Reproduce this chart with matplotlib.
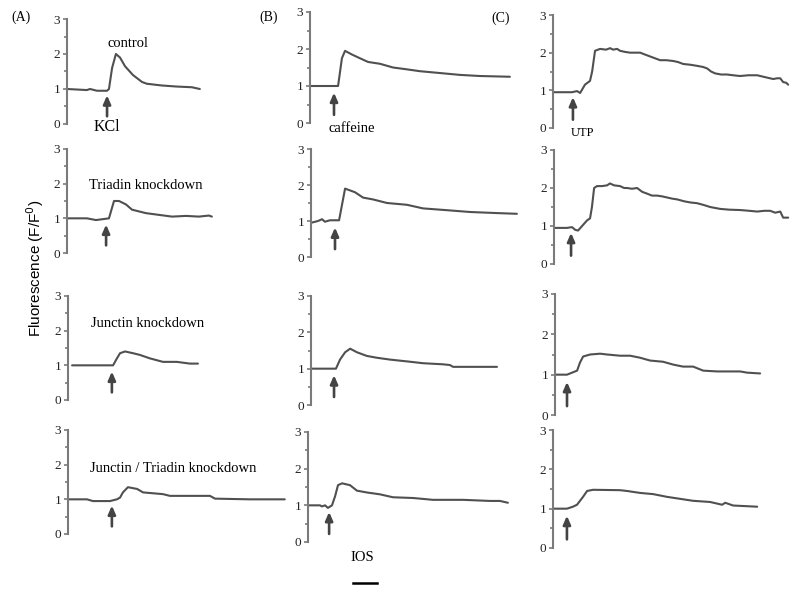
import matplotlib
matplotlib.use('Agg')
import matplotlib.pyplot as plt

# ---- data: time (s) and fluorescence ratio F/F0 for each trace ----
# column A: KCl
a1_t = [0, 8.3, 9.6, 12.5, 16.7, 17.5, 18.8, 20.4, 22.1, 24.2, 27.5, 31.3, 33.3, 39.6, 45.8, 52.1, 55.4]
a1_f = [1.0, 0.97, 1.0, 0.95, 0.95, 1.0, 1.6, 2.0, 1.9, 1.65, 1.4, 1.2, 1.15, 1.1, 1.07, 1.05, 1.0]

a2_t = [0, 8.3, 12.1, 17.5, 19.6, 21.7, 24.6, 27.1, 32.9, 38.3, 43.8, 49.6, 55.0, 59.2, 60.4]
a2_f = [1.0, 1.0, 0.95, 1.0, 1.5, 1.5, 1.4, 1.25, 1.15, 1.1, 1.05, 1.07, 1.05, 1.08, 1.05]

a3_t = [1.7, 18.8, 20.4, 21.7, 23.8, 27.1, 30.0, 34.2, 39.6, 45.4, 50.8, 54.2]
a3_f = [1.0, 1.0, 1.2, 1.35, 1.4, 1.35, 1.3, 1.2, 1.1, 1.1, 1.05, 1.05]

a4_t = [0, 7.9, 10.4, 17.5, 20.4, 21.7, 22.9, 25.0, 28.8, 31.3, 39.6, 42.5, 59.2, 61.3, 75.8, 90.4]
a4_f = [1.0, 1.0, 0.95, 0.95, 1.0, 1.05, 1.2, 1.35, 1.3, 1.2, 1.15, 1.1, 1.1, 1.02, 1.0, 1.0]

# column B: caffeine
b1_t = [0, 11.7, 13.3, 14.6, 17.5, 20.8, 24.2, 29.2, 34.6, 40.4, 45.8, 54.2, 62.5, 70.8, 83.3]
b1_f = [1.0, 1.0, 1.75, 1.95, 1.85, 1.75, 1.65, 1.6, 1.5, 1.45, 1.4, 1.35, 1.3, 1.27, 1.25]

b2_t = [0, 2.9, 4.6, 5.8, 7.9, 11.7, 14.2, 18.3, 21.7, 25.8, 31.7, 40.0, 46.7, 56.7, 66.3, 77.5, 85.8]
b2_f = [0.95, 1.0, 1.05, 0.98, 1.02, 1.02, 1.9, 1.8, 1.65, 1.6, 1.5, 1.45, 1.35, 1.3, 1.25, 1.22, 1.2]

b3_t = [0, 10.4, 12.1, 14.2, 16.3, 19.2, 23.3, 27.5, 32.9, 40.0, 46.7, 55.0, 57.9, 59.2, 77.5]
b3_f = [1.0, 1.0, 1.25, 1.45, 1.55, 1.45, 1.35, 1.3, 1.25, 1.2, 1.15, 1.12, 1.1, 1.05, 1.05]

b4_t = [0, 5.0, 5.8, 7.1, 8.3, 10.0, 11.3, 12.5, 14.2, 17.5, 20.4, 24.6, 30.0, 35.4, 43.8, 52.1, 64.6, 75.8, 80.0, 83.3]
b4_f = [1.0, 1.0, 0.97, 1.0, 0.93, 1.0, 1.25, 1.55, 1.6, 1.55, 1.4, 1.35, 1.3, 1.22, 1.2, 1.15, 1.15, 1.12, 1.12, 1.07]

# column C: UTP
c1_t = [0, 4.2, 7.9, 10.0, 11.3, 13.3, 15.4, 16.3, 17.5, 19.6, 22.1, 23.8, 25.0, 26.7, 27.9, 30.0,
        32.1, 34.2, 36.3, 38.3, 40.4, 42.5, 44.6, 47.1, 50.0, 52.1, 54.2, 57.1, 60.0, 62.5, 64.2,
        65.8, 67.5, 70.0, 72.5, 75.0, 77.9, 81.3, 85.0, 88.3, 91.7, 93.3, 94.6, 95.8, 97.1, 97.9]
c1_f = [0.95, 0.95, 0.95, 0.98, 0.93, 1.15, 1.25, 1.5, 2.05, 2.1, 2.08, 2.12, 2.08, 2.1, 2.05, 2.02,
        2.0, 2.0, 2.0, 1.95, 1.9, 1.85, 1.8, 1.8, 1.78, 1.75, 1.7, 1.68, 1.65, 1.62, 1.58,
        1.5, 1.45, 1.42, 1.42, 1.4, 1.38, 1.4, 1.4, 1.35, 1.3, 1.32, 1.32, 1.22, 1.2, 1.15]

c2_t = [0, 3.3, 5.4, 7.5, 8.8, 10.0, 11.7, 13.8, 15.0, 15.8, 16.7, 17.9, 20.0, 22.1, 23.3, 25.0,
        27.5, 29.2, 30.4, 32.5, 34.6, 36.7, 38.8, 40.8, 42.9, 45.0, 47.1, 49.2, 51.3, 54.2, 56.7,
        59.6, 62.5, 65.0, 67.5, 69.2, 72.9, 77.5, 81.3, 84.6, 87.5, 90.0, 92.1, 94.2, 95.4, 97.5]
c2_f = [0.95, 0.95, 0.95, 0.97, 0.9, 0.88, 1.0, 1.15, 1.2, 1.5, 2.0, 2.05, 2.05, 2.07, 2.12, 2.07,
        2.05, 2.0, 2.0, 1.98, 2.0, 1.9, 1.85, 1.8, 1.8, 1.78, 1.75, 1.72, 1.7, 1.65, 1.62,
        1.6, 1.55, 1.5, 1.47, 1.45, 1.43, 1.42, 1.4, 1.38, 1.4, 1.4, 1.35, 1.38, 1.22, 1.22]

c3_t = [0, 5.0, 7.1, 9.2, 10.4, 11.7, 14.6, 18.8, 21.7, 27.1, 31.3, 35.4, 39.6, 45.0, 49.2, 53.3,
        57.5, 61.7, 67.5, 77.1, 80.0, 85.4]
c3_f = [1.0, 1.0, 1.05, 1.1, 1.3, 1.45, 1.5, 1.52, 1.5, 1.47, 1.47, 1.42, 1.35, 1.32, 1.25, 1.2,
        1.2, 1.1, 1.08, 1.08, 1.05, 1.03]

c4_t = [0, 5.8, 8.3, 10.0, 12.5, 14.2, 16.7, 27.9, 30.8, 36.3, 41.7, 47.5, 52.9, 58.3, 65.4, 70.4,
        71.7, 75.0, 85.0]
c4_f = [1.0, 1.0, 1.05, 1.1, 1.3, 1.45, 1.48, 1.47, 1.45, 1.4, 1.37, 1.3, 1.25, 1.2, 1.17, 1.1,
        1.15, 1.08, 1.05]

# stimulus time (s) for the arrow in each panel
a_stim = [16.7, 16.3, 18.3, 18.3]
b_stim = [10.0, 10.0, 9.6, 8.8]
c_stim = [8.3, 7.1, 5.0, 5.8]

a_titles = ['control', 'Triadin knockdown', 'Junctin knockdown', 'Junctin / Triadin knockdown']
scale_bar_s = 10

# ---- layout: pixel boxes (left, y of 3, y of 0) in a 800x597 figure ----
W, H = 800, 597
col_w = {'A': 223, 'B': 215, 'C': 245}
col_xmax = {'A': 93.0, 'B': 89.6, 'C': 102.0}
boxes = {
    'A': [(67, 19, 124), (67, 149, 253), (68, 296, 400), (68, 430, 534)],
    'B': [(310, 12, 123), (311, 149, 257), (311, 296, 405), (308, 432, 542)],
    'C': [(553, 15, 128), (554, 150, 264), (555, 294, 415), (553, 430, 548)],
}
traces = {
    'A': [(a1_t, a1_f), (a2_t, a2_f), (a3_t, a3_f), (a4_t, a4_f)],
    'B': [(b1_t, b1_f), (b2_t, b2_f), (b3_t, b3_f), (b4_t, b4_f)],
    'C': [(c1_t, c1_f), (c2_t, c2_f), (c3_t, c3_f), (c4_t, c4_f)],
}
stims = {'A': a_stim, 'B': b_stim, 'C': c_stim}

serif = 'Liberation Serif'
line_col = '#505050'
axis_col = '#7a7a7a'

fig = plt.figure(figsize=(8, 5.97), dpi=100)
axes = {}

for col in ['A', 'B', 'C']:
    for i, (L, T, B) in enumerate(boxes[col]):
        ax = fig.add_axes([L / W, 1 - B / H, col_w[col] / W, (B - T) / H])
        t, f = traces[col][i]
        ax.plot(t, f, color=line_col, lw=1.5, solid_capstyle='round')
        ax.set_xlim(0, col_xmax[col])
        ax.set_ylim(0, 3)
        for s in ['top', 'right', 'bottom']:
            ax.spines[s].set_visible(False)
        ax.spines['left'].set_color(axis_col)
        ax.spines['left'].set_linewidth(1.5)
        ax.set_xticks([])
        ax.set_yticks([0, 1, 2, 3])
        ax.set_yticks([0.5, 1.5, 2.5], minor=True)
        ax.tick_params(axis='y', which='major', length=3, width=1.2, color=axis_col,
                       labelsize=9.5, pad=2, labelcolor='#222222')
        ax.tick_params(axis='y', which='minor', length=2, width=1.2, color=axis_col)
        for lab in ax.get_yticklabels():
            lab.set_fontfamily(serif)
        ax.patch.set_alpha(0)

        # stimulus arrow
        s = stims[col][i]
        ax.annotate('', xy=(s, 0.82), xytext=(s, 0.22),
                    arrowprops=dict(arrowstyle='-|>,head_length=0.5,head_width=0.22',
                                    color='#444444', lw=1.9, shrinkA=0, shrinkB=0),
                    annotation_clip=False)
        axes[(col, i)] = ax

# condition labels (column A)
ax = axes[('A', 0)]
ax.text(25.4, 2.3, a_titles[0], family=serif, fontsize=10.5, ha='center', va='center')
ax.text(16.7, -0.1, 'KCl', family=serif, fontsize=11.5, ha='center', va='center')
axes[('A', 1)].text(32.9, 1.96, a_titles[1], family=serif, fontsize=10.5, ha='center', va='center')
axes[('A', 2)].text(33.3, 2.2, a_titles[2], family=serif, fontsize=10.5, ha='center', va='center')
axes[('A', 3)].text(43.8, 1.9, a_titles[3], family=serif, fontsize=10.5, ha='center', va='center')

# stimulus names
axes[('B', 0)].text(17.5, -0.15, 'caffeine', family=serif, fontsize=10.5, ha='center', va='center')
axes[('C', 0)].text(12.1, -0.12, 'UTP', family=serif, fontsize=9, ha='center', va='center')

# time scale bar
ax = axes[('B', 3)]
ax.text(22.5, -0.41, 'IOS', family=serif, fontsize=10.5, ha='center', va='center')
ax.plot([18.75, 18.75 + scale_bar_s], [-1.12, -1.12], color='black', lw=1.8, clip_on=False)

# panel letters and y label
fig.text(21 / W, 1 - 17 / H, '(A)', family=serif, fontsize=10, ha='center', va='center')
fig.text(269 / W, 1 - 17 / H, '(B)', family=serif, fontsize=10, ha='center', va='center')
fig.text(501 / W, 1 - 18 / H, '(C)', family=serif, fontsize=10, ha='center', va='center')
fig.text(35 / W, 1 - 268 / H, 'Fluorescence (F/F$^0$)', family='Liberation Sans', fontsize=11,
         rotation=90, ha='center', va='center')

fig.savefig('out.png', dpi=100, facecolor='white')
